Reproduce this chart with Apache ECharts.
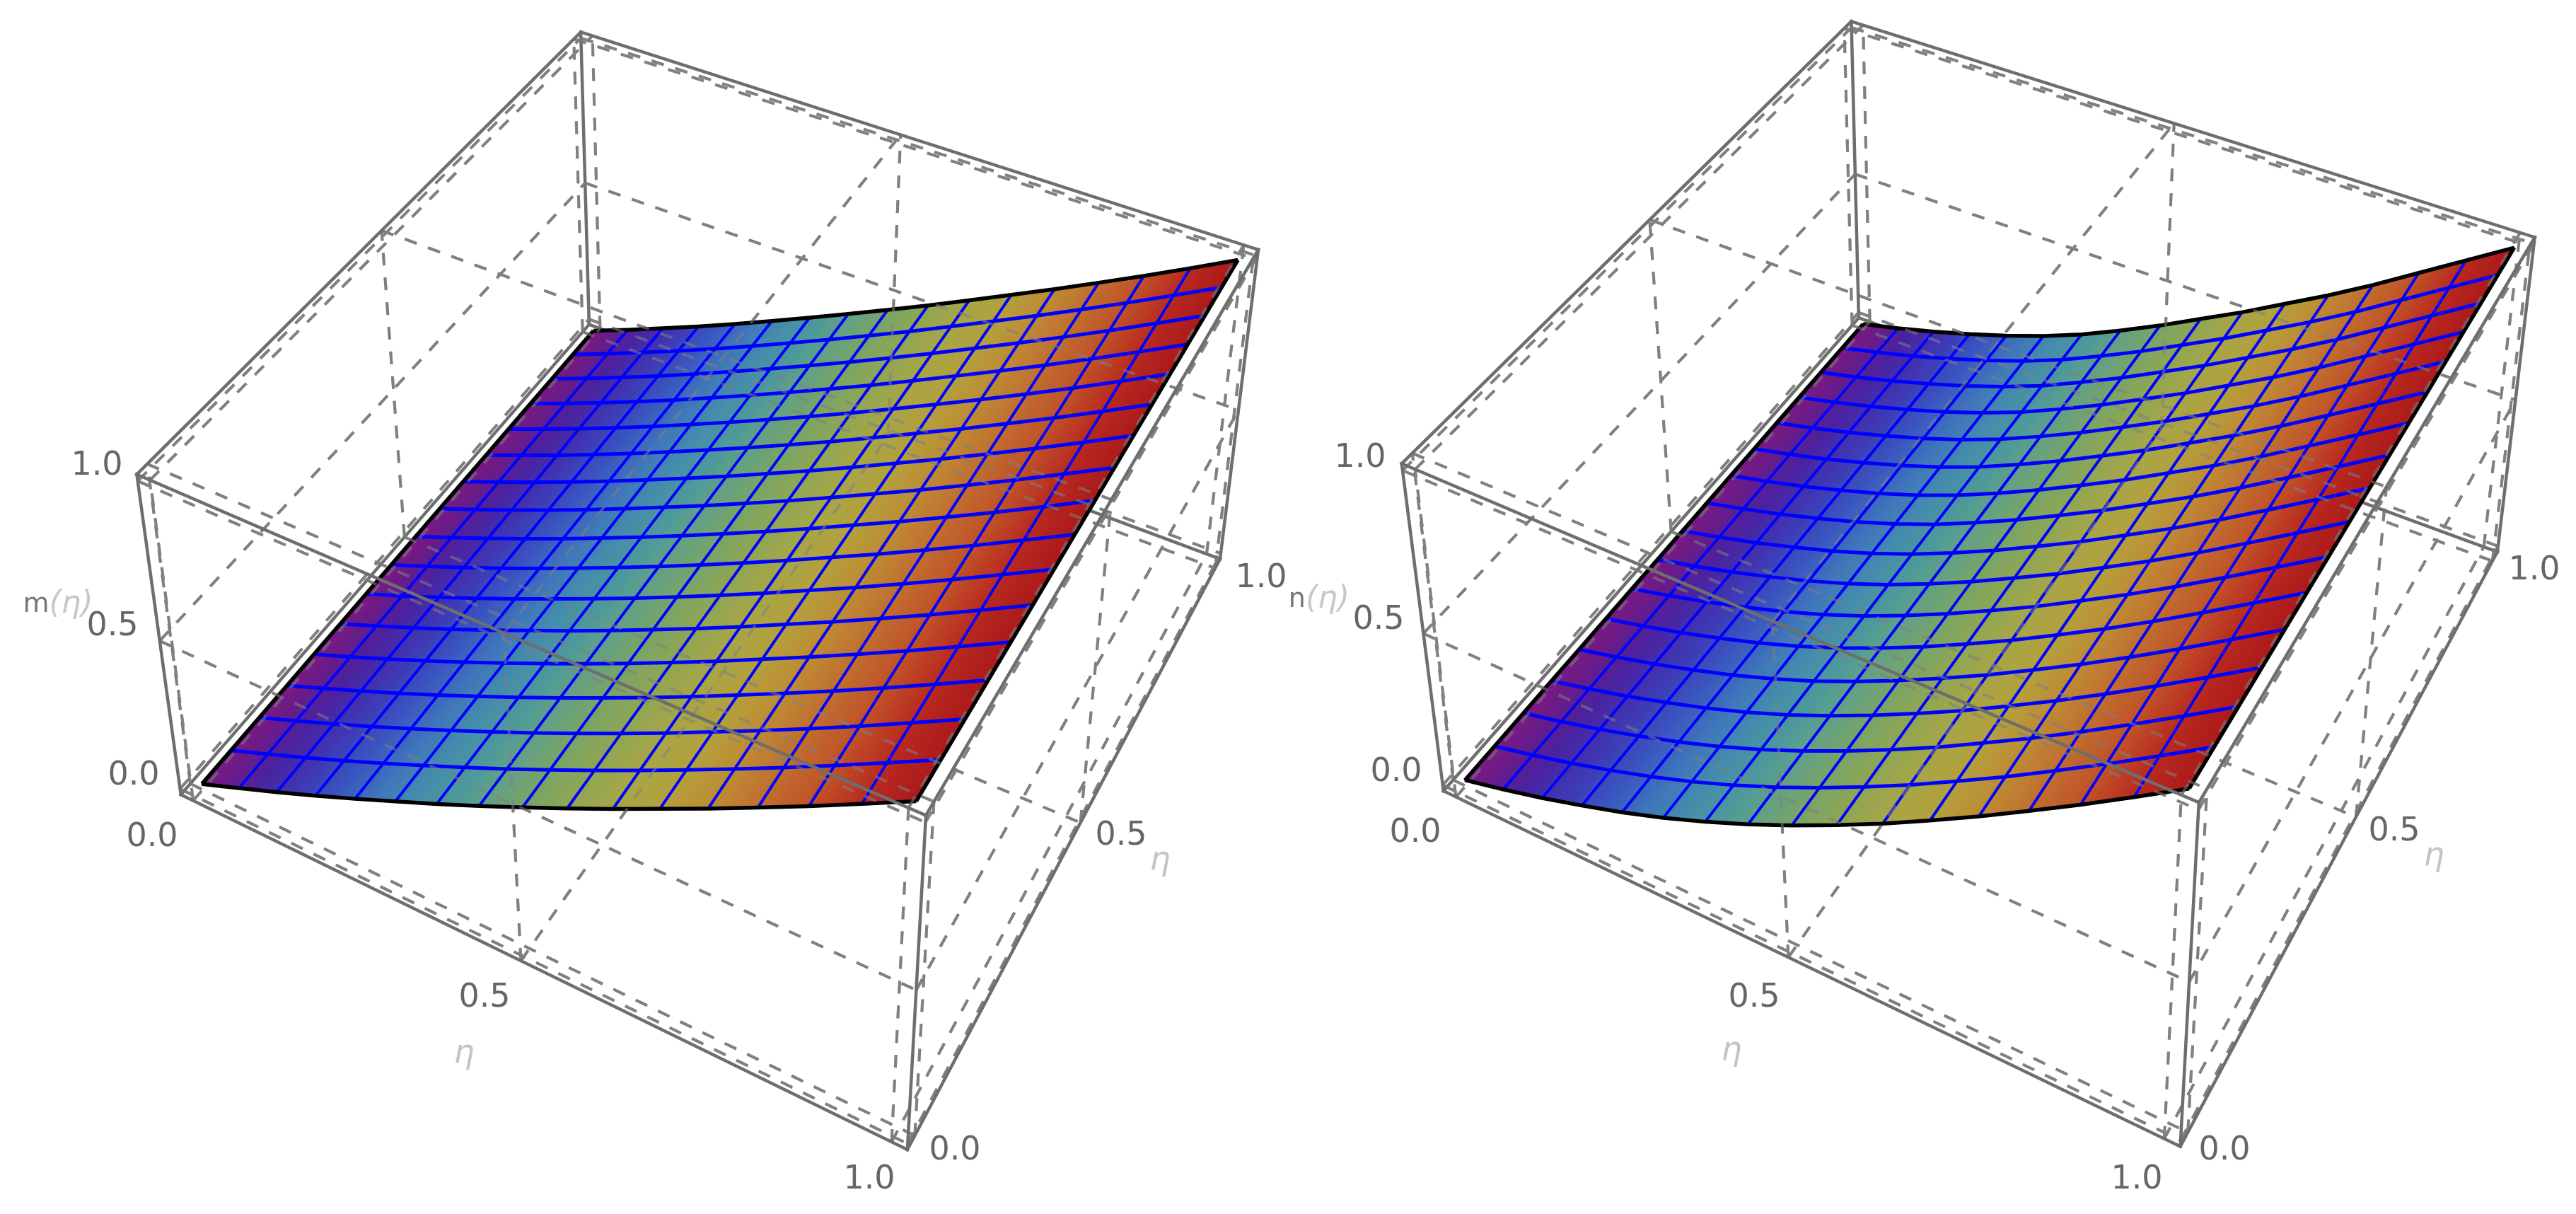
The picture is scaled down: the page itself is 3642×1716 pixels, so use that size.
<!DOCTYPE html>
<html><head><meta charset="utf-8">
<style>html,body{margin:0;padding:0;background:#fff}#c{width:3642px;height:1716px}</style>
<script src="https://cdn.jsdelivr.net/npm/echarts@6/dist/echarts.min.js"></script>
</head><body><div id="c"></div>
<script>
// ---------- data ----------
const etaNodes = [0,.0625,.125,.1875,.25,.3125,.375,.4375,.5,.5625,.625,.6875,.75,.8125,.875,.9375,1];
const mFront = [0,.051,.103,.157,.2125,.27,.328,.388,.45,.513,.578,.645,.7125,.782,.853,.926,1];
const mBack  = [0,.052,.106,.161,.218,.277,.337,.398,.46,.523,.588,.654,.72,.788,.857,.928,1];
const nFront = [0,.0325,.068,.1075,.15,.1975,.25,.3075,.37,.4365,.507,.5825,.66,.7415,.825,.9115,1];
const nBack  = [0,.032,.067,.106,.148,.195,.248,.31,.375,.445,.515,.59,.665,.745,.83,.915,1];
const tickValues = [0,.5,1];
const tickLabels = ['0.0','0.5','1.0'];
const colorPositions = [0,.03,.09,.156,.22,.28,.34,.4,.44,.5,.56,.62,.69,.75,.81,.88,.94,1];
const colorValues = ['#7a1c86','#6f1a85','#4a22a0','#3f38b5','#3a55c0','#3f75bb','#458cac','#4e9a9a','#60a088','#78a468','#8ea655','#a5a648','#b4a03c','#be8c34','#c07030','#c05028','#b82a20','#ac1a1a'];

// ---------- layout ----------
const boxLo = -0.02, boxHi = 1.02;
const corners3d = [[boxLo,boxLo,boxLo],[boxLo,boxLo,boxHi],[boxHi,boxLo,boxLo],[boxHi,boxLo,boxHi],[boxHi,boxHi,boxLo],[boxHi,boxHi,boxHi],[boxLo,boxHi,boxLo],[boxLo,boxHi,boxHi]];
const panels = [
 {range:[0,1821], front:mFront, back:mBack, title:['m','(η)'],
  calib:[[255,1122],[193,673],[1286,1625],[1307,1151],[1723,793],[1780,351],[833,457],[822,46]],
  labels:{z:[[189,1097],[159,886],[137,659]],x:[[215,1184],[685,1411],[1229,1668]],y:[[1350,1627],[1585,1182],[1783,818]],
          title:[82,855],etaX:[656,1490],etaY:[1640,1217]}},
 {range:[1821,3642], front:nFront, back:nBack, title:['n','(η)'],
  calib:[[2042,1118],[1981,656],[3081,1622],[3110,1132],[3531,779],[3584,337],[2628,449],[2617,30]],
  labels:{z:[[1974,1092],[1949,877],[1923,648]],x:[[2001,1178],[2480,1411],[3021,1668]],y:[[3145,1627],[3385,1176],[3583,807]],
          title:[1865,848],etaX:[2448,1486],etaY:[3441,1211]}}
];

function solve(A,b){const n=b.length;for(let i=0;i<n;i++){let p=i;for(let r=i+1;r<n;r++)if(Math.abs(A[r][i])>Math.abs(A[p][i]))p=r;
 [A[i],A[p]]=[A[p],A[i]];[b[i],b[p]]=[b[p],b[i]];for(let r=i+1;r<n;r++){const f=A[r][i]/A[i][i];for(let c=i;c<n;c++)A[r][c]-=f*A[i][c];b[r]-=f*b[i];}}
 const x=new Array(n).fill(0);for(let i=n-1;i>=0;i--){let s=b[i];for(let c=i+1;c<n;c++)s-=A[i][c]*x[c];x[i]=s/A[i][i];}return x;}
function camera(calib){const rows=[],rhs=[];corners3d.forEach((P,k)=>{const u=calib[k][0]/1000,v=calib[k][1]/1000,[X,Y,Z]=P;
  rows.push([X,Y,Z,1,0,0,0,0,-u*X,-u*Y,-u*Z]);rhs.push(u);rows.push([0,0,0,0,X,Y,Z,1,-v*X,-v*Y,-v*Z]);rhs.push(v);});
 const N=Array.from({length:11},()=>new Array(11).fill(0)),r=new Array(11).fill(0);
 rows.forEach((R,k)=>{for(let i=0;i<11;i++){r[i]+=R[i]*rhs[k];for(let j=0;j<11;j++)N[i][j]+=R[i]*R[j];}});
 const p=solve(N,r);return ([X,Y,Z])=>{const w=p[8]*X+p[9]*Y+p[10]*Z+1;return [1000*(p[0]*X+p[1]*Y+p[2]*Z+p[3])/w,1000*(p[4]*X+p[5]*Y+p[6]*Z+p[7])/w];};}

function colorAt(t){let i=0;while(i<colorPositions.length-2&&t>colorPositions[i+1])i++;
 const g=(t-colorPositions[i])/(colorPositions[i+1]-colorPositions[i]);return echarts.color.lerp(Math.min(1,Math.max(0,g)),[colorValues[i],colorValues[i+1]]);}
function profile(arr,x){const f=x*(etaNodes.length-1),i=Math.min(Math.floor(f),etaNodes.length-2),g=f-i;return arr[i]*(1-g)+arr[i+1]*g;}
function surf(p,x,y){return [x,y,profile(p.front,x)*(1-y)+profile(p.back,x)*y];}

function seg(api,proj,a,b,style){const A=api.coord(proj(a)),B=api.coord(proj(b));return {type:'line',shape:{x1:A[0],y1:A[1],x2:B[0],y2:B[1]},style:style,silent:true};}
const solid={stroke:'#6e6e6e',lineWidth:4.5,lineCap:'square'};
const dashed={stroke:'#808080',lineWidth:4,lineDash:[18,17]};
const dashedOver={stroke:'#808080',lineWidth:4,lineDash:[18,17],opacity:0.55};

const grids=[],xAxes=[],yAxes=[],series=[];
panels.forEach((p,pi)=>{
 p.proj=camera(p.calib);
 grids.push({left:p.range[0],width:p.range[1]-p.range[0],top:0,height:1716,show:false});
 xAxes.push({type:'value',gridIndex:pi,min:p.range[0],max:p.range[1],show:false});
 yAxes.push({type:'value',gridIndex:pi,min:0,max:1716,inverse:true,show:false});
 const L=boxLo,H=boxHi;
 const custom=(name,data,render)=>series.push({type:'custom',name:name,xAxisIndex:pi,yAxisIndex:pi,coordinateSystem:'cartesian2d',clip:false,silent:true,animation:false,data:data,renderItem:render});
 // face grids
 const gridLines=[];const sides=[L,H];
 [0,1,2].forEach(d=>{const a=(d+1)%3,b=(d+2)%3;
   const add=(va,vb)=>{const s=[0,0,0],t=[0,0,0];s[d]=L;t[d]=H;s[a]=t[a]=va;s[b]=t[b]=vb;gridLines.push([s,t]);};
   sides.forEach(u=>tickValues.forEach(v=>{add(u,v);add(v,u);}));});
 custom('face-grids',gridLines,(ps,api)=>{const e=gridLines[ps.dataIndex];return seg(api,p.proj,e[0],e[1],dashed);});
 // box edges hidden behind the surface
 const hiddenEdges=[[[L,L,L],[L,H,L]],[[L,H,L],[H,H,L]],[[L,H,L],[L,H,H]]];
 custom('edges-behind',hiddenEdges,(ps,api)=>{const e=hiddenEdges[ps.dataIndex];return seg(api,p.proj,e[0],e[1],solid);});
 // surface, as thin strips along eta-2
 const stripCount=128,strips=[];for(let i=0;i<stripCount;i++)strips.push(i);
 custom('surface',strips,(ps,api)=>{const i=ps.dataIndex,x0=i/stripCount,x1=(i+1)/stripCount;
   const pts=[surf(p,x0,0),surf(p,x1,0),surf(p,x1,1),surf(p,x0,1)].map(q=>api.coord(p.proj(q)));const c=colorAt((x0+x1)/2);
   return {type:'polygon',shape:{points:pts},style:{fill:c,stroke:c,lineWidth:1.5},silent:true};});
 // mesh lines
 const meshLines=[];etaNodes.forEach((e,i)=>{if(i>0&&i<etaNodes.length-1){meshLines.push({dir:'x',v:e});meshLines.push({dir:'y',v:e});}});
 custom('mesh',meshLines,(ps,api)=>{const m=meshLines[ps.dataIndex];
   const pts=etaNodes.map(e=>api.coord(p.proj(m.dir==='x'?surf(p,m.v,e):surf(p,e,m.v))));
   return {type:'polyline',shape:{points:pts},style:{stroke:'#0000ff',lineWidth:m.dir==='y'?5:4,fill:'none'},silent:true};});
 // boundary
 const borders=[{dir:'x',v:0},{dir:'x',v:1},{dir:'y',v:0},{dir:'y',v:1}];
 custom('boundary',borders,(ps,api)=>{const m=borders[ps.dataIndex];
   const pts=etaNodes.map(e=>api.coord(p.proj(m.dir==='x'?surf(p,m.v,e):surf(p,e,m.v))));
   return {type:'polyline',shape:{points:pts},style:{stroke:'#000',lineWidth:5.5,fill:'none'},silent:true};});
 // face grids seen through the surface
 custom('face-grids-over',gridLines,(ps,api)=>{const e=gridLines[ps.dataIndex];return seg(api,p.proj,e[0],e[1],dashedOver);});
 // remaining box edges
 const edges=[[[L,L,L],[H,L,L]],[[H,L,L],[H,H,L]],[[L,L,L],[L,L,H]],[[H,L,L],[H,L,H]],[[H,H,L],[H,H,H]],[[L,L,H],[H,L,H]],[[H,L,H],[H,H,H]],[[H,H,H],[L,H,H]],[[L,H,H],[L,L,H]]];
 custom('edges',edges,(ps,api)=>{const e=edges[ps.dataIndex];return seg(api,p.proj,e[0],e[1],solid);});
 // text
 const lab=p.labels,texts=[];
 ['z','x','y'].forEach(k=>tickLabels.forEach((t,i)=>texts.push({at:lab[k][i],text:t,color:'#666',font:'46px "DejaVu Sans"'})));
 texts.push({at:lab.etaX,text:'η',color:'#c4c4c4',font:'italic 46px "DejaVu Sans"'});
 texts.push({at:lab.etaY,text:'η',color:'#c4c4c4',font:'italic 46px "DejaVu Sans"'});
 texts.push({at:lab.title,title:p.title});
 custom('labels',texts,(ps,api)=>{const t=texts[ps.dataIndex],c=api.coord(t.at);
   if(t.title)return {type:'text',silent:true,style:{x:c[0],y:c[1],align:'center',verticalAlign:'middle',text:'{a|'+t.title[0]+'}{b|'+t.title[1]+'}',
      rich:{a:{fill:'#777',font:'38px "DejaVu Sans"'},b:{fill:'#c8c8c8',font:'italic 44px "DejaVu Sans"'}}}};
   return {type:'text',silent:true,style:{x:c[0],y:c[1],align:'center',verticalAlign:'middle',text:t.text,fill:t.color,font:t.font}};});
});
const chart=echarts.init(document.getElementById('c'),null,{renderer:'canvas',width:3642,height:1716});
chart.setOption({animation:false,backgroundColor:'#fff',tooltip:{show:false},grid:grids,xAxis:xAxes,yAxis:yAxes,series:series});
</script></body></html>
